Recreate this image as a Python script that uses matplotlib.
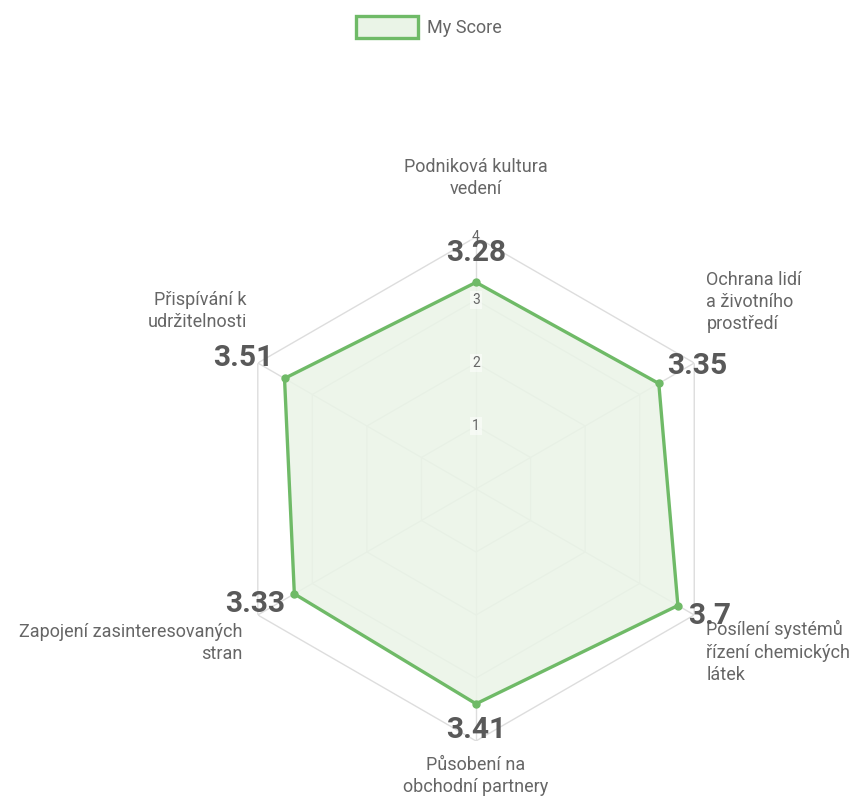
import numpy as np
import matplotlib
matplotlib.use('Agg')
import matplotlib.pyplot as plt
from matplotlib.patches import Patch

categories = ['Podniková kultura\nvedení',
              'Ochrana lidí\na životního\nprostředí',
              'Posílení systémů\nřízení chemických\nlátek',
              'Působení na\nobchodní partnery',
              'Zapojení zasinteresovaných\nstran',
              'Přispívání k\nudržitelnosti']
scores = [3.28, 3.35, 3.7, 3.41, 3.33, 3.51]
score_labels = ['3.28', '3.35', '3.7', '3.41', '3.33', '3.51']
rings = [1, 2, 3, 4]
series_name = 'My Score'

line_color = '#6fba67'
fill_color = '#eaf4e7'
grid_color = '#dddddd'
text_color = '#666666'

plt.rcParams['font.family'] = ['Roboto', 'DejaVu Sans']

fig = plt.figure(figsize=(8.58, 7.96), dpi=100)
ax = fig.add_axes([0.2611, 0.0691, 0.5874, 0.6332], projection='polar')
ax.set_theta_zero_location('N')
ax.set_theta_direction(-1)
ax.set_ylim(0, max(rings))
ax.grid(False)
ax.set_xticks([])
ax.set_yticks([])
ax.spines['polar'].set_visible(False)
ax.patch.set_visible(False)

n = len(categories)
angles = np.arange(n) * 2 * np.pi / n
closed = np.append(angles, angles[0])

# hexagon grid + spokes
for r in rings:
    ax.plot(closed, [r] * (n + 1), color=grid_color, lw=1, zorder=1)
for a in angles:
    ax.plot([a, a], [0, max(rings)], color=grid_color, lw=1, zorder=1)

vals = np.append(scores, scores[0])
ax.fill(closed, vals, color=fill_color, alpha=0.85, zorder=2, lw=0)
ax.plot(closed, vals, color=line_color, lw=2.4, zorder=3)
ax.plot(angles, scores, 'o', color=line_color, ms=5, zorder=4)

# ring tick labels
for r in rings:
    ax.text(0, r, str(r), ha='center', va='center', fontsize=10, color=text_color,
            zorder=5, bbox=dict(boxstyle='square,pad=0.15', fc='white', ec='none', alpha=0.5))

# category labels
cat_offsets = [(0, 39), (12, 61), (12, -37), (0, -35), (-15, -28), (-11, 52)]
cat_ha = ['center', 'left', 'left', 'center', 'right', 'right']
cat_va = ['bottom', 'center', 'center', 'center', 'center', 'center']
for a, lab, off, ha, va in zip(angles, categories, cat_offsets, cat_ha, cat_va):
    ax.annotate(lab, xy=(a, max(rings)), xytext=off, textcoords='offset pixels',
                ha=ha, va=va, fontsize=13, color=text_color, linespacing=1.3,
                annotation_clip=False, zorder=6)

# value labels near outer ring
val_offsets = [(0, -16), (3, -3), (15, -1), (0, 11), (-3, 11), (-15, 5)]
for a, lab, off in zip(angles, score_labels, val_offsets):
    ax.annotate(lab, xy=(a, max(rings)), xytext=off, textcoords='offset pixels',
                ha='center', va='center', fontsize=21.5, fontweight='bold', color='#595959',
                annotation_clip=False, zorder=7)

handle = Patch(facecolor=fill_color, edgecolor=line_color, linewidth=2.4)
fig.legend([handle], [series_name], loc='upper center', bbox_to_anchor=(0.5, 1.0),
           frameon=False, fontsize=13, handlelength=3.45, handleheight=1.45,
           labelcolor=text_color, handletextpad=0.5, borderaxespad=0.5)

fig.savefig('out.png', dpi=100)
